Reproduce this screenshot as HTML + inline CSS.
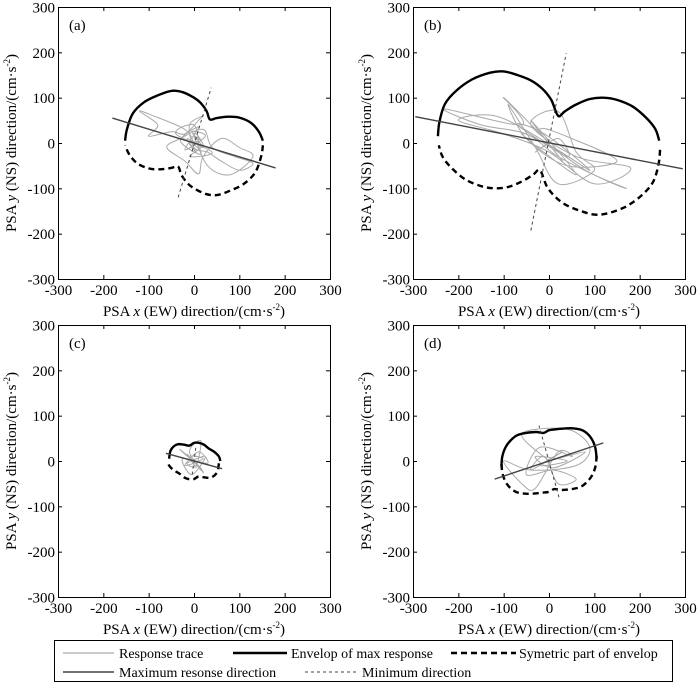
<!DOCTYPE html>
<html><head><meta charset="utf-8"><style>
html,body{margin:0;padding:0;background:#fff;}
svg{display:block;font-family:"Liberation Serif",serif;}
</style></head><body>
<svg id="fig" width="700" height="684" viewBox="0 0 700 684" xmlns="http://www.w3.org/2000/svg">
<g>
<rect x="54.5" y="640.5" width="618" height="41" fill="#fff" stroke="#000" stroke-width="1"/>
<line x1="63" y1="653" x2="114" y2="653" stroke="#aaa" stroke-width="1.2"/>
<text x="119" y="658" font-size="14">Response trace</text>
<line x1="233" y1="653" x2="287" y2="653" stroke="#000" stroke-width="2.4"/>
<text x="291" y="658" font-size="14">Envelop of max response</text>
<line x1="451" y1="653" x2="516" y2="653" stroke="#000" stroke-width="2.4" stroke-dasharray="6,4"/>
<text x="519" y="658" font-size="14">Symetric part of envelop</text>
<line x1="63" y1="672" x2="114" y2="672" stroke="#444" stroke-width="1.4"/>
<text x="119" y="677" font-size="14">Maximum resonse direction</text>
<line x1="305" y1="672" x2="359" y2="672" stroke="#444" stroke-width="1" stroke-dasharray="3,3"/>
<text x="362" y="677" font-size="14">Minimum direction</text>
</g>
</svg>
<script>
// Data (values in cm/s^2)
const ticks = [-300,-200,-100,0,100,200,300];
const tickLabels = ["-300","-200","-100","0","100","200","300"];
const panelLabels = ["(a)","(b)","(c)","(d)"];
// Envelope (solid) x / y arrays
const envAx = [-152,-148,-135,-110,-80,-50,-25,0,15,28,35,50,75,100,125,143,152];
const envAy = [5,30,65,90,105,115,112,100,88,70,52,55,58,56,45,25,5];
const envBx = [-245,-242,-230,-205,-170,-130,-100,-70,-40,-15,5,20,35,60,90,120,150,185,215,235,243];
const envBy = [15,45,85,115,140,155,158,150,138,120,95,60,70,85,97,100,95,80,55,30,5];
const envCx = [-55,-52,-45,-35,-22,-10,0,12,22,32,45,55,58];
const envCy = [5,22,32,37,36,34,40,40,36,28,20,10,0];
const envDx = [-105,-103,-96,-85,-70,-50,-28,-12,0,15,35,55,75,92,102,105];
const envDy = [-12,10,30,45,57,62,64,62,68,70,72,72,67,52,30,5];
// Max & min direction lines [x1,y1,x2,y2]
const maxA = [-180,55,180,-55], minA = [-35,-120,38,122];
const maxB = [-295,58,295,-57], minB = [-40,-193,38,198];
const maxC = [-62,17,62,-17],  minC = [-4,-30,4,30];
const maxD = [-120,-40,120,40], minD = [22,-80,-22,78];
// Response traces
const trAx = [0,-20,-90,-120,-80,-100,-50,-20,10,20,-10,0,30,60,100,130,90,40,20,-30,-60,-20,10,20,60,100,130,80,30,0,15,-10,5,-15,20,-5,25,-20,10,-30,15,0,20,-10,40,-40,0,10,-5,0];
const trAy = [0,30,60,70,40,15,25,20,50,60,40,-10,-20,-40,-60,-45,-30,-10,30,10,-10,-40,-68,-30,10,-10,-30,-70,-50,20,5,0,-20,10,-10,25,15,-15,35,5,-25,15,-5,-30,-20,20,40,-10,5,0];
const trBx = [0,-100,-60,-230,-150,-50,20,120,170,80,-20,-120,-200,-100,0,100,180,60,-40,20,60,100,20,-30,-90,-50,40,150,50,-20,30,-40,60,-60,10,90,-10,-70,40,20,-30,0];
const trBy = [0,100,40,75,40,20,-30,-80,-100,-60,10,60,50,20,-20,-90,-55,-30,40,70,-20,-60,-90,-10,85,10,-50,-40,10,30,-40,50,-70,20,-10,-60,20,40,-30,10,-20,0];
const trCx = [0,-20,-30,10,20,-10,15,5,-15,25,-5,-25,30,10,-20,20,-10,5,-15,15,0];
const trCy = [0,15,25,-10,-25,20,45,-10,-5,10,-30,5,-5,20,-10,5,10,-15,15,-20,0];
const trDx = [0,-60,40,90,60,-40,-100,-60,-30,20,50,-20,-50,10,60,20,-10,-40,30,-20,40,-30,10,80,0];
const trDy = [0,60,70,30,-10,-20,0,-50,-60,20,10,30,-30,-20,-40,-50,10,-20,20,-10,0,10,-15,20,0];

const panels = [
 {name:"a", x0:58, y0:7, env:[envAx,envAy], mx:maxA, mn:minA, tr:[trAx,trAy]},
 {name:"b", x0:413, y0:7, env:[envBx,envBy], mx:maxB, mn:minB, tr:[trBx,trBy]},
 {name:"c", x0:58, y0:325, env:[envCx,envCy], mx:maxC, mn:minC, tr:[trCx,trCy]},
 {name:"d", x0:413, y0:325, env:[envDx,envDy], mx:maxD, mn:minD, tr:[trDx,trDy]}
];
const NS = "http://www.w3.org/2000/svg";
const svg = document.getElementById('fig');
function mk(tag, attrs, parent){const e=document.createElementNS(NS,tag);for(const k in attrs)e.setAttribute(k,attrs[k]);parent.appendChild(e);return e;}
function smooth(pts){
  let d="M"+pts[0][0].toFixed(1)+","+pts[0][1].toFixed(1);
  for(let i=0;i<pts.length-1;i++){
    const p0=pts[Math.max(0,i-1)],p1=pts[i],p2=pts[i+1],p3=pts[Math.min(pts.length-1,i+2)];
    const c1=[p1[0]+(p2[0]-p0[0])/6,p1[1]+(p2[1]-p0[1])/6];
    const c2=[p2[0]-(p3[0]-p1[0])/6,p2[1]-(p3[1]-p1[1])/6];
    d+=" C"+c1[0].toFixed(1)+","+c1[1].toFixed(1)+" "+c2[0].toFixed(1)+","+c2[1].toFixed(1)+" "+p2[0].toFixed(1)+","+p2[1].toFixed(1);
  }
  return d;
}
const W=272;
panels.forEach((p,pi)=>{
  const sx=v=>p.x0+(v+300)/600*W;
  const sy=v=>p.y0+(300-v)/600*W;
  const g=mk('g',{},svg);
  
  
  const tp=p.tr[0].map((x,i)=>[sx(x),sy(p.tr[1][i])]);
  const tr=mk('path',{d:smooth(tp),fill:'none',stroke:'#aaa','stroke-width':1},g);
  
  
  const ep=p.env[0].map((x,i)=>[sx(x),sy(p.env[1][i])]);
  const en=mk('path',{d:smooth(ep),fill:'none',stroke:'#000','stroke-width':2.4},g);
  
  
  const sp=p.env[0].map((x,i)=>[sx(-x),sy(-p.env[1][i])]);
  const es=mk('path',{d:smooth(sp),fill:'none',stroke:'#000','stroke-width':2.4,'stroke-dasharray':'6,4'},g);
  
  
  const ml=mk('line',{x1:sx(p.mx[0]),y1:sy(p.mx[1]),x2:sx(p.mx[2]),y2:sy(p.mx[3]),stroke:'#444','stroke-width':1.4},g);
  
  
  const nl=mk('line',{x1:sx(p.mn[0]),y1:sy(p.mn[1]),x2:sx(p.mn[2]),y2:sy(p.mn[3]),stroke:'#444','stroke-width':1,'stroke-dasharray':'3,3'},g);
  
  
  const fr=mk('rect',{x:p.x0+0.5,y:p.y0+0.5,width:W,height:W,fill:'none',stroke:'#000','stroke-width':1},g);
  
  
  ticks.forEach((t,i)=>{
    const X=sx(t)+0.5, Y=sy(t)+0.5;
    mk('line',{x1:X,y1:p.y0+W,x2:X,y2:p.y0+W-4,stroke:'#000'},g);
    mk('line',{x1:X,y1:p.y0,x2:X,y2:p.y0+4,stroke:'#000'},g);
    mk('line',{x1:p.x0,y1:Y,x2:p.x0+4,y2:Y,stroke:'#000'},g);
    mk('line',{x1:p.x0+W,y1:Y,x2:p.x0+W-4,y2:Y,stroke:'#000'},g);
    const xl=mk('text',{x:X,y:p.y0+W+16,'font-size':15,'text-anchor':'middle'},g);
    xl.textContent=tickLabels[i];
    
    
    const yl=mk('text',{x:p.x0-3,y:Y+5,'font-size':15,'text-anchor':'end'},g);
    yl.textContent=tickLabels[i];
    
    
  });
  const lb=mk('text',{x:p.x0+11,y:p.y0+23,'font-size':15},g);
  lb.textContent=panelLabels[pi];
  
  
  const xt=mk('text',{x:p.x0+W/2,y:p.y0+W+37,'font-size':15,'text-anchor':'middle'},g);
  xt.innerHTML='PSA <tspan font-style="italic">x</tspan> (EW) direction/(cm·s<tspan dy="-6" font-size="9">-2</tspan><tspan dy="6">)</tspan>';
  
  
  const yt=mk('text',{x:0,y:0,'font-size':15,'text-anchor':'middle',transform:`translate(${p.x0-42},${p.y0+W/2}) rotate(-90)`},g);
  yt.innerHTML='PSA <tspan font-style="italic">y</tspan> (NS) direction/(cm·s<tspan dy="-6" font-size="9">-2</tspan><tspan dy="6">)</tspan>';
  
  
});
</script>
</body></html>
